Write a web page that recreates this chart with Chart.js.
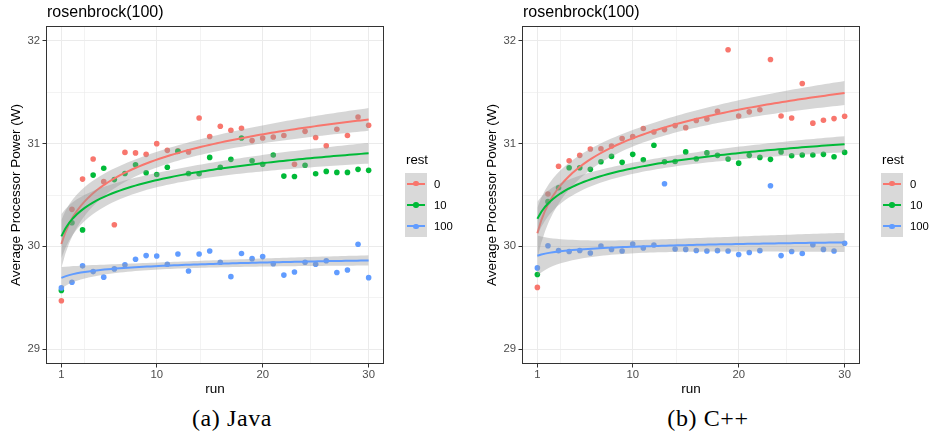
<!DOCTYPE html>
<html>
<head>
<meta charset="utf-8">
<script src="https://cdn.jsdelivr.net/npm/chart.js@4"></script>
<style>
  html, body { margin: 0; padding: 0; background: #fff; }
  #wrap { position: relative; width: 929px; height: 439px; background: #fff; overflow: hidden;
          font-family: "Liberation Sans", Arial, Helvetica, sans-serif; }
  canvas { position: absolute; top: 0; }
  .ptitle { position: absolute; top: 3px; font-size: 16px; line-height: 18px; color: #000; white-space: nowrap; }
  .ltitle { position: absolute; font-size: 13.2px; line-height: 16px; color: #000; }
  .lkey { position: absolute; width: 22px; height: 64px; background: #d9d9d9; }
  .lline { position: absolute; left: 2px; width: 18px; height: 2px; }
  .ldot { position: absolute; left: 8.2px; width: 5.6px; height: 5.6px; border-radius: 50%; }
  .llab { position: absolute; font-size: 11.3px; line-height: 14px; color: #000; }
  .cap { position: absolute; top: 404px; font-family: "Liberation Serif", "Times New Roman", serif;
         font-size: 24px; line-height: 28px; letter-spacing: 0.6px; color: #000; white-space: nowrap; transform: translateX(-50%); }
</style>
</head>
<body>
<div id="wrap">
  <canvas id="c0" width="476" height="400" style="left:0px;width:476px;height:400px"></canvas>
  <canvas id="c1" width="476" height="400" style="left:476px;width:476px;height:400px"></canvas>
</div>
<script>
// ---------------- data ----------------
const runs = [1,2,3,4,5,6,7,8,9,10,11,12,13,14,15,16,17,18,19,20,21,22,23,24,25,26,27,28,29,30];

const javaRest0   = [29.47,30.36,30.655,30.85,30.63,30.21,30.915,30.91,30.896,31.00,30.935,30.93,30.92,31.25,31.07,31.17,31.13,31.15,31.03,31.055,31.065,31.08,30.80,31.12,31.06,30.98,31.14,31.08,31.26,31.18];
const javaRest10  = [29.57,30.23,30.16,30.694,30.76,30.65,30.71,30.795,30.717,30.70,30.77,30.925,30.71,30.707,30.866,30.77,30.847,31.055,30.834,30.80,30.89,30.684,30.68,30.79,30.707,30.73,30.72,30.72,30.75,30.74];
const javaRest100 = [29.595,29.65,29.81,29.754,29.70,29.78,29.82,29.874,29.91,29.906,29.825,29.925,29.76,29.925,29.955,29.845,29.705,29.93,29.88,29.90,29.83,29.72,29.75,29.845,29.825,29.86,29.745,29.77,30.02,29.695];

const cppRest0    = [29.60,30.51,30.78,30.834,30.886,30.948,30.95,30.977,31.05,31.07,31.147,31.114,31.137,31.176,31.156,31.225,31.24,31.316,31.915,31.27,31.31,31.33,31.82,31.27,31.25,31.586,31.20,31.228,31.244,31.267];
const cppRest10   = [29.725,30.435,30.57,30.765,30.765,30.75,30.824,30.876,30.818,30.896,30.844,30.984,30.824,30.827,30.92,30.853,30.91,30.886,30.85,30.81,30.886,30.866,30.847,30.92,30.883,30.889,30.89,30.896,30.873,30.915];
const cppRest100  = [29.79,30.006,29.958,29.95,29.96,29.935,30.003,29.97,29.955,30.023,29.984,30.013,30.61,29.974,29.97,29.96,29.955,29.958,29.955,29.92,29.94,29.958,30.59,29.91,29.95,29.93,30.016,29.97,29.955,30.03];

const restLevels = ['0', '10', '100'];
const restColors = ['#F8766D', '#00BA38', '#619CFF'];
const xTickLabels = [1, 10, 20, 30];
const yTickLabels = [29, 30, 31, 32];
const xMinorGrid = [3.162, 14.142, 24.495];
const yMinorGrid = [29.5, 30.5, 31.5];
const panelTitles = ['rosenbrock(100)', 'rosenbrock(100)'];
const captions = ['(a) Java', '(b) C++'];
const xLabel = 'run';
const yLabel = 'Average Processor Power (W)';
const legendTitle = 'rest';

// ------------- smoothing: lm(y ~ log(x)) with 95% band, as geom_smooth -------------
function smoothLog(xs, ys) {
  const n = xs.length;
  const lx = xs.map(Math.log);
  const mx = lx.reduce((a, b) => a + b, 0) / n;
  const my = ys.reduce((a, b) => a + b, 0) / n;
  let sxx = 0, sxy = 0;
  for (let i = 0; i < n; i++) { sxx += (lx[i] - mx) ** 2; sxy += (lx[i] - mx) * (ys[i] - my); }
  const b = sxy / sxx, a = my - b * mx;
  let rss = 0;
  for (let i = 0; i < n; i++) rss += (ys[i] - a - b * lx[i]) ** 2;
  const s = Math.sqrt(rss / (n - 2));
  const tq = 2.0484; // qt(0.975, 28)
  const fit = [], lo = [], hi = [];
  const x0 = Math.min(...xs), x1 = Math.max(...xs), m = 80;
  for (let k = 0; k < m; k++) {
    const x = x0 + (x1 - x0) * k / (m - 1);
    const l = Math.log(x);
    const f = a + b * l;
    const se = s * Math.sqrt(1 / n + (l - mx) ** 2 / sxx);
    fit.push({ x, y: f }); lo.push({ x, y: f - tq * se }); hi.push({ x, y: f + tq * se });
  }
  return { fit, lo, hi };
}

const FONT = '"Liberation Sans", Arial, Helvetica, sans-serif';
const isIn = (arr, v) => arr.some(t => Math.abs(t - v) < 1e-6);

const borderPlugin = {
  id: 'panelBorder',
  afterDraw(chart) {
    const { ctx, chartArea: a } = chart;
    ctx.save();
    ctx.strokeStyle = '#333333';
    ctx.lineWidth = 1;
    const l = Math.round(a.left), t = Math.round(a.top), r = Math.round(a.right), b = Math.round(a.bottom);
    ctx.strokeRect(l + 0.5, t + 0.5, r - l - 1, b - t - 1);
    ctx.restore();
  }
};

function makePanel(canvasId, series) {
  const datasets = [];
  let order = 200;
  series.forEach((vals, i) => {
    datasets.push({
      type: 'scatter', label: restLevels[i],
      data: runs.map((r, k) => ({ x: r, y: vals[k] })),
      backgroundColor: restColors[i], borderColor: restColors[i],
      pointRadius: 2.8, pointBorderWidth: 0, order: order--
    });
  });
  series.forEach((vals, i) => {
    const sm = smoothLog(runs, vals);
    datasets.push({
      type: 'line', data: sm.hi, borderColor: 'rgba(0,0,0,0)', borderWidth: 0,
      pointRadius: 0, fill: false, order: order--, tension: 0
    });
    datasets.push({
      type: 'line', data: sm.lo, borderColor: 'rgba(0,0,0,0)', borderWidth: 0,
      pointRadius: 0, fill: '-1', backgroundColor: 'rgba(153,153,153,0.4)', order: order--, tension: 0
    });
    datasets.push({
      type: 'line', data: sm.fit, borderColor: restColors[i], borderWidth: 2,
      pointRadius: 0, fill: false, order: order--, tension: 0
    });
  });

  const gridCommon = (majors) => ({
    color: '#ebebeb',
    lineWidth: (c) => (c.tick && isIn(majors, c.tick.value)) ? 1 : 0.6,
    drawTicks: true,
    tickLength: 3.5,
    tickWidth: 1,
    tickColor: (c) => (c.tick && isIn(majors, c.tick.value)) ? '#333333' : 'rgba(0,0,0,0)'
  });

  new Chart(document.getElementById(canvasId), {
    type: 'scatter',
    data: { datasets },
    options: {
      responsive: false, animation: false, events: [],
      devicePixelRatio: 1,
      layout: { padding: { left: 0, top: 26, right: 92, bottom: 0 } },
      plugins: { legend: { display: false }, tooltip: { enabled: false }, title: { display: false },
                 filler: { propagate: false } },
      scales: {
        x: {
          type: 'linear', min: -0.45, max: 31.45,
          afterBuildTicks: (s) => { s.ticks = [...xTickLabels, ...xMinorGrid].sort((a, b) => a - b).map(v => ({ value: v })); },
          afterFit: (s) => { s.height = 36; },
          ticks: {
            autoSkip: false, maxRotation: 0, padding: 0.5, color: '#4d4d4d',
            font: { family: FONT, size: 11.3 },
            callback: (v) => isIn(xTickLabels, v) ? String(v) : ''
          },
          grid: gridCommon(xTickLabels),
          border: { display: false },
          title: { display: true, text: xLabel, color: '#000', font: { family: FONT, size: 13.5 }, padding: { top: 0, bottom: 3 } }
        },
        y: {
          type: 'linear', min: 28.854, max: 32.146,
          afterBuildTicks: (s) => { s.ticks = [...yTickLabels, ...yMinorGrid].sort((a, b) => a - b).map(v => ({ value: v })); },
          afterFit: (s) => { s.width = 46; },
          ticks: {
            autoSkip: false, padding: 2.5, color: '#4d4d4d',
            font: { family: FONT, size: 11.3 },
            callback: (v) => isIn(yTickLabels, v) ? String(v) : ''
          },
          grid: gridCommon(yTickLabels),
          border: { display: false },
          title: { display: true, text: yLabel, color: '#000', font: { family: FONT, size: 13.5 }, padding: { top: 8, bottom: 0 } }
        }
      }
    },
    plugins: [borderPlugin]
  });
}

makePanel('c0', [javaRest0, javaRest10, javaRest100]);
makePanel('c1', [cppRest0, cppRest10, cppRest100]);

// ------------- titles, legends, captions (HTML text) -------------
const wrap = document.getElementById('wrap');
function addEl(cls, text, style) {
  const d = document.createElement('div');
  d.className = cls;
  if (text !== null) d.textContent = text;
  Object.assign(d.style, style);
  wrap.appendChild(d);
  return d;
}
[0, 1].forEach((p) => {
  const off = p * 476;
  addEl('ptitle', panelTitles[p], { left: (47 + off) + 'px' });
  addEl('ltitle', legendTitle, { left: (406 + off) + 'px', top: '152px' });
  const key = addEl('lkey', null, { left: (405 + off) + 'px', top: '173px' });
  restLevels.forEach((lab, i) => {
    const cy = 10.7 + i * 21.3;
    const ln = document.createElement('div');
    ln.className = 'lline';
    Object.assign(ln.style, { top: (cy - 1) + 'px', background: restColors[i] });
    key.appendChild(ln);
    const dt = document.createElement('div');
    dt.className = 'ldot';
    Object.assign(dt.style, { top: (cy - 2.8) + 'px', background: restColors[i] });
    key.appendChild(dt);
    addEl('llab', lab, { left: (434 + off) + 'px', top: (173 + cy - 7) + 'px' });
  });
});
addEl('cap', captions[0], { left: '232px' });
addEl('cap', captions[1], { left: '708px' });
</script>
</body>
</html>
